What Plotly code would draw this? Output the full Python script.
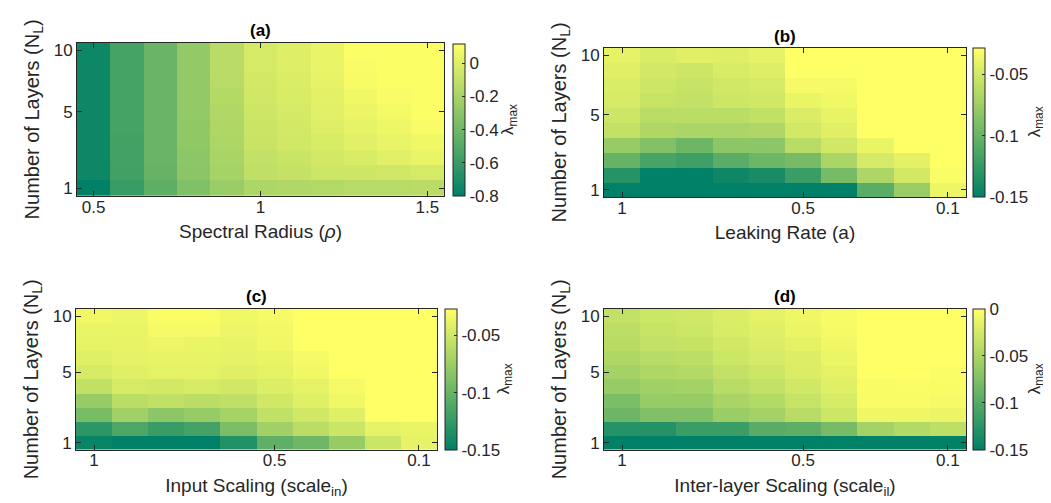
import plotly.graph_objects as go

# ---------------- data ----------------
layers = [1, 2, 3, 4, 5, 6, 7, 8, 9, 10]
y_tick_pos = [1, 6, 10]
y_tick_text = ["1", "5", "10"]

rho = [0.5, 0.6, 0.7, 0.8, 0.9, 1.0, 1.1, 1.2, 1.3, 1.4, 1.5]
rho_ticks = [0.5, 1.0, 1.5]
rho_ticktext = ["0.5", "1", "1.5"]

scale_vals = [1.0, 0.9, 0.8, 0.7, 0.6, 0.5, 0.4, 0.3, 0.2, 0.1]
scale_ticks = [1.0, 0.5, 0.1]
scale_ticktext = ["1", "0.5", "0.1"]

# (a) lambda_max vs spectral radius; rows N_L = 1..10
lam_a = [
    [-0.80, -0.60, -0.46, -0.34, -0.24, -0.18, -0.16, -0.15, -0.14, -0.14, -0.13],
    [-0.75, -0.57, -0.43, -0.30, -0.20, -0.11, -0.09, -0.06, -0.06, -0.05, -0.03],
    [-0.75, -0.56, -0.42, -0.29, -0.19, -0.10, -0.07, -0.04, -0.02, 0.01, 0.04],
    [-0.75, -0.56, -0.42, -0.28, -0.18, -0.08, -0.05, -0.02, 0.01, 0.04, 0.07],
    [-0.75, -0.55, -0.42, -0.28, -0.17, -0.07, -0.04, 0.00, 0.03, 0.06, 0.10],
    [-0.75, -0.55, -0.42, -0.27, -0.16, -0.06, -0.03, 0.01, 0.05, 0.08, 0.11],
    [-0.75, -0.55, -0.42, -0.27, -0.15, -0.05, -0.02, 0.02, 0.07, 0.10, 0.11],
    [-0.75, -0.55, -0.42, -0.27, -0.14, -0.04, -0.01, 0.03, 0.09, 0.11, 0.11],
    [-0.75, -0.55, -0.42, -0.27, -0.13, -0.03, 0.00, 0.04, 0.10, 0.11, 0.11],
    [-0.75, -0.55, -0.42, -0.27, -0.13, -0.03, 0.00, 0.04, 0.11, 0.11, 0.11],
]

# (b) lambda_max vs leaking rate
lam_b = [
    [-0.155, -0.155, -0.155, -0.155, -0.155, -0.155, -0.155, -0.107, -0.077, -0.037],
    [-0.132, -0.152, -0.153, -0.143, -0.138, -0.122, -0.093, -0.067, -0.049, -0.030],
    [-0.101, -0.116, -0.121, -0.107, -0.098, -0.093, -0.068, -0.048, -0.041, -0.028],
    [-0.078, -0.088, -0.098, -0.083, -0.083, -0.062, -0.050, -0.038, -0.028, -0.028],
    [-0.057, -0.066, -0.068, -0.068, -0.066, -0.049, -0.043, -0.028, -0.028, -0.028],
    [-0.052, -0.061, -0.061, -0.061, -0.058, -0.045, -0.039, -0.028, -0.028, -0.028],
    [-0.048, -0.055, -0.057, -0.052, -0.050, -0.038, -0.035, -0.028, -0.028, -0.028],
    [-0.045, -0.052, -0.055, -0.050, -0.048, -0.033, -0.033, -0.028, -0.028, -0.028],
    [-0.043, -0.049, -0.052, -0.046, -0.044, -0.028, -0.028, -0.028, -0.028, -0.028],
    [-0.040, -0.046, -0.043, -0.044, -0.040, -0.028, -0.028, -0.028, -0.028, -0.028],
]

# (c) lambda_max vs input scaling
lam_c = [
    [-0.146, -0.152, -0.152, -0.152, -0.134, -0.104, -0.097, -0.077, -0.052, -0.039],
    [-0.129, -0.113, -0.123, -0.117, -0.090, -0.073, -0.060, -0.052, -0.039, -0.037],
    [-0.092, -0.073, -0.082, -0.077, -0.070, -0.057, -0.049, -0.042, -0.027, -0.027],
    [-0.077, -0.060, -0.057, -0.060, -0.058, -0.049, -0.042, -0.034, -0.027, -0.027],
    [-0.057, -0.047, -0.048, -0.047, -0.049, -0.044, -0.039, -0.032, -0.027, -0.027],
    [-0.047, -0.042, -0.040, -0.040, -0.042, -0.040, -0.034, -0.027, -0.027, -0.027],
    [-0.042, -0.039, -0.038, -0.038, -0.039, -0.037, -0.032, -0.027, -0.027, -0.027],
    [-0.039, -0.038, -0.036, -0.037, -0.038, -0.034, -0.027, -0.027, -0.027, -0.027],
    [-0.037, -0.037, -0.032, -0.032, -0.036, -0.033, -0.027, -0.027, -0.027, -0.027],
    [-0.034, -0.036, -0.029, -0.029, -0.034, -0.032, -0.027, -0.027, -0.027, -0.027],
]

# (d) lambda_max vs inter-layer scaling
lam_d = [
    [-0.16, -0.16, -0.16, -0.16, -0.16, -0.16, -0.16, -0.16, -0.16, -0.16],
    [-0.128, -0.129, -0.116, -0.116, -0.098, -0.095, -0.080, -0.053, -0.045, -0.038],
    [-0.086, -0.074, -0.074, -0.059, -0.053, -0.041, -0.030, -0.009, -0.009, -0.012],
    [-0.077, -0.062, -0.062, -0.050, -0.044, -0.033, -0.024, -0.003, -0.003, -0.006],
    [-0.062, -0.056, -0.053, -0.041, -0.036, -0.027, -0.018, -0.003, -0.002, -0.003],
    [-0.053, -0.047, -0.045, -0.036, -0.030, -0.021, -0.015, 0.000, 0.000, -0.002],
    [-0.047, -0.041, -0.039, -0.030, -0.025, -0.020, -0.012, 0.000, 0.000, 0.000],
    [-0.042, -0.036, -0.033, -0.026, -0.021, -0.015, -0.008, 0.000, 0.000, 0.000],
    [-0.039, -0.033, -0.030, -0.023, -0.018, -0.012, -0.006, 0.000, 0.000, 0.000],
    [-0.036, -0.030, -0.027, -0.021, -0.015, -0.009, -0.005, 0.000, 0.000, 0.000],
]

panel_titles = ["(a)", "(b)", "(c)", "(d)"]
x_titles = ["Spectral Radius (<i>ρ</i>)", "Leaking Rate (a)",
            "Input Scaling (scale<sub>in</sub>)", "Inter-layer Scaling (scale<sub>il</sub>)"]
y_title = "Number of Layers (N<sub>L</sub>)"
cb_title = "λ<sub>max</sub>"

cb_ticks_a = [0, -0.2, -0.4, -0.6, -0.8]
cb_text_a = ["0", "-0.2", "-0.4", "-0.6", "-0.8"]
cb_ticks_bc = [-0.05, -0.1, -0.15]
cb_text_bc = ["-0.05", "-0.1", "-0.15"]
cb_ticks_d = [0, -0.05, -0.1, -0.15]
cb_text_d = ["0", "-0.05", "-0.1", "-0.15"]

clims = [(-0.8, 0.12), (-0.15, -0.028), (-0.15, -0.027), (-0.15, 0.0)]

# ---------------- layout geometry (pixels) ----------------
W, H = 1051, 503
FONT = "Liberation Sans, Arial, sans-serif"
DARK = "#262626"
summer = [[0, "rgb(0,128,102)"], [1, "rgb(255,255,102)"]]

# plot boxes: (left, right, top, bottom)
boxes = [(69, 436, 33, 188), (596, 958, 38, 189), (68, 429, 302, 444), (596, 958, 302, 444)]
# colorbars: (left, top, bottom)
cbars = [(445, 34, 188), (965, 38, 189), (437, 302, 444), (965, 302, 444)]
cb_label_x = [501, 1028, 497, 1028]
title_y = [21, 27, 289, 289]

px = lambda v: v / W
py = lambda v: 1 - v / H

fig = go.Figure()
xs = [rho, scale_vals, scale_vals, scale_vals]
zs = [lam_a, lam_b, lam_c, lam_d]
cbt = [(cb_ticks_a, cb_text_a), (cb_ticks_bc, cb_text_bc), (cb_ticks_bc, cb_text_bc), (cb_ticks_d, cb_text_d)]

for i in range(4):
    l, r, t, b = boxes[i]
    cl, ct, cbm = cbars[i]
    sfx = "" if i == 0 else str(i + 1)
    fig.add_trace(go.Heatmap(
        x=xs[i], y=layers, z=zs[i],
        xaxis="x" + sfx, yaxis="y" + sfx,
        colorscale=summer, zmin=clims[i][0], zmax=clims[i][1],
        colorbar=dict(
            x=px(cl), xanchor="left", y=py(ct), yanchor="top",
            len=(cbm - ct) / H, lenmode="fraction", thickness=12,
            outlinewidth=1, outlinecolor=DARK,
            tickvals=cbt[i][0], ticktext=cbt[i][1],
            ticks="inside", ticklen=3, tickcolor=DARK,
            tickfont=dict(family=FONT, size=17, color=DARK),
            xpad=0, ypad=0,
        ),
        hoverongaps=False,
    ))
    if i == 0:
        xr = [0.45, 1.55]
        tv, tt = rho_ticks, rho_ticktext
    else:
        xr = [1.05, 0.05]
        tv, tt = scale_ticks, scale_ticktext
    common = dict(showline=True, linecolor=DARK, linewidth=1, mirror="ticks",
                  ticks="inside", ticklen=5, tickcolor=DARK, showgrid=False, zeroline=False,
                  tickfont=dict(family=FONT, size=17, color=DARK))
    fig.layout["xaxis" + sfx] = dict(
        domain=[px(l), px(r)], range=xr, anchor="y" + sfx,
        tickvals=tv, ticktext=tt, ticklabelstandoff=-5,
        title=dict(text=x_titles[i], font=dict(family=FONT, size=19, color=DARK), standoff=9),
        **common)
    fig.layout["yaxis" + sfx] = dict(
        domain=[py(b), py(t)], range=[0.5, 10.5], anchor="x" + sfx,
        tickvals=y_tick_pos, ticktext=y_tick_text,
        title=dict(text=y_title, font=dict(family=FONT, size=20, color=DARK), standoff=8),
        **common)
    fig.add_annotation(text="<b>%s</b>" % panel_titles[i], x=(px(l) + px(r)) / 2,
                       y=py(title_y[i]), xref="paper", yref="paper", xanchor="center", yanchor="middle",
                       showarrow=False, font=dict(family=FONT, size=17, color="black"))
    fig.add_annotation(text=cb_title, x=px(cb_label_x[i]), y=py((ct + cbm) / 2),
                       xref="paper", yref="paper", xanchor="center", yanchor="middle",
                       textangle=-90, showarrow=False,
                       font=dict(family=FONT, size=17, color=DARK))

fig.update_layout(width=W, height=H, margin=dict(l=0, r=0, t=0, b=0),
                  paper_bgcolor="white", plot_bgcolor="white",
                  font=dict(family=FONT, color=DARK))
fig.write_html("out.html")
